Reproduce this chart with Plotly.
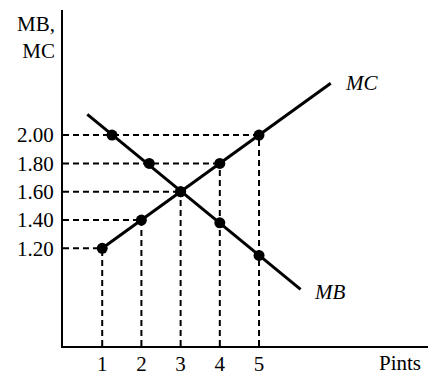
import plotly.graph_objects as go

# Data
pints = [1, 2, 3, 4, 5]
mc_values = [1.20, 1.40, 1.60, 1.80, 2.00]
mb_pints = [1.25, 2.2, 3.0, 4.0, 5.0]
mb_values = [2.00, 1.80, 1.60, 1.38, 1.15]
mc_line_x = [1.0, 6.83]
mc_line_y = [1.20, 2.366]
mb_line_x = [0.62, 6.06]
mb_line_y = [2.147, 0.91]
x_ticks = [1, 2, 3, 4, 5]
x_ticktext = ["1", "2", "3", "4", "5"]
y_ticks = [1.20, 1.40, 1.60, 1.80, 2.00]
y_ticktext = ["1.20", "1.40", "1.60", "1.80", "2.00"]

X_MIN, X_MAX = 0.0, 9.31
Y_MIN, Y_MAX = 0.51, 2.884

FONT = "Liberation Serif, Times New Roman, serif"
fig = go.Figure()

# dashed guide lines
for q, v in zip(pints, mc_values):
    fig.add_trace(go.Scatter(x=[X_MIN, q], y=[v, v], mode="lines",
                             line=dict(color="black", width=2, dash="6px,4px"),
                             hoverinfo="skip", showlegend=False))
    fig.add_trace(go.Scatter(x=[q, q], y=[Y_MIN, v], mode="lines",
                             line=dict(color="black", width=2, dash="6px,4px"),
                             hoverinfo="skip", showlegend=False))

# curves
fig.add_trace(go.Scatter(x=mc_line_x, y=mc_line_y, mode="lines",
                         line=dict(color="black", width=3), showlegend=False))
fig.add_trace(go.Scatter(x=mb_line_x, y=mb_line_y, mode="lines",
                         line=dict(color="black", width=3), showlegend=False))
fig.add_trace(go.Scatter(x=pints, y=mc_values, mode="markers",
                         marker=dict(color="black", size=11), showlegend=False,
                         cliponaxis=False))
fig.add_trace(go.Scatter(x=mb_pints, y=mb_values, mode="markers",
                         marker=dict(color="black", size=11), showlegend=False,
                         cliponaxis=False))

fig.add_annotation(x=7.14, y=2.368, xref="x", yref="y", text="<i>MC</i>",
                   showarrow=False, xanchor="left", yanchor="middle",
                   font=dict(family=FONT, size=21, color="black"))
fig.add_annotation(x=6.35, y=0.891, xref="x", yref="y", text="<i>MB</i>",
                   showarrow=False, xanchor="left", yanchor="middle",
                   font=dict(family=FONT, size=21, color="black"))
fig.add_annotation(x=9.18, y=-0.0506, xref="x", yref="paper", text="Pints",
                   showarrow=False, xanchor="right", yanchor="middle",
                   font=dict(family=FONT, size=21, color="black"))
fig.add_annotation(x=-6 / 365, y=1.0, xref="paper", yref="paper",
                   text="MB,<br>MC", showarrow=False, xanchor="right",
                   yanchor="top", align="right",
                   font=dict(family=FONT, size=21, color="black"))

fig.update_layout(
    width=434, height=373,
    margin=dict(l=55, r=14, t=2, b=35),
    paper_bgcolor="white", plot_bgcolor="white",
    font=dict(family=FONT, size=21, color="black"),
    xaxis=dict(range=[X_MIN, X_MAX], showgrid=False, zeroline=False,
               showline=True, linecolor="black", linewidth=2,
               tickvals=x_ticks, ticktext=x_ticktext, ticks="", ticklen=0,
               ticklabelstandoff=-2, fixedrange=True, automargin=False),
    yaxis=dict(range=[Y_MIN, Y_MAX], showgrid=False, zeroline=False,
               showline=True, linecolor="black", linewidth=2,
               tickvals=y_ticks, ticktext=y_ticktext, ticks="", ticklen=0,
               ticklabelstandoff=3, fixedrange=True, automargin=False),
)

fig.write_html("out.html")
